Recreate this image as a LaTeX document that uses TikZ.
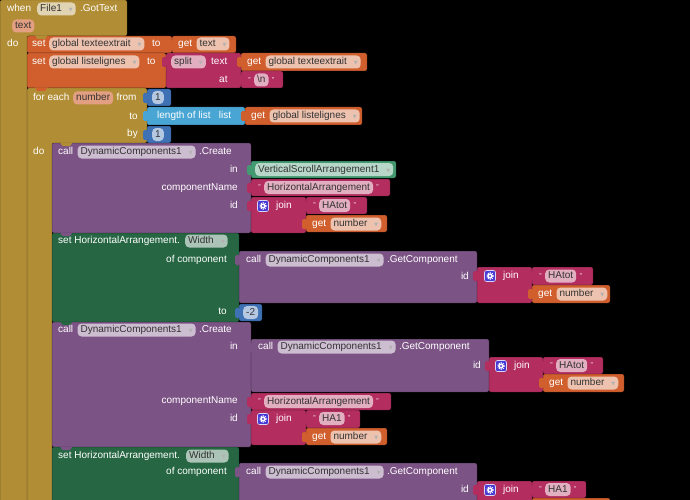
\documentclass[tikz,border=0pt]{standalone}
\usepackage{fontspec}
\setmainfont{Liberation Sans}
\newfontfamily\symfont{DejaVu Sans}
\usepackage{tikz}
\usetikzlibrary{positioning}

\definecolor{evgold}{RGB}{177,142,53}
\definecolor{varorange}{RGB}{208,95,45}
\definecolor{txtpink}{RGB}{179,45,94}
\definecolor{listblue}{RGB}{73,166,212}
\definecolor{mathblue}{RGB}{63,113,181}
\definecolor{comppurple}{RGB}{124,83,133}
\definecolor{setgreen}{RGB}{38,102,67}
\definecolor{compgreen}{RGB}{67,153,112}
\definecolor{gearblue}{RGB}{72,58,212}

% dropdown arrow inside a field
\newcommand{\dd}{\hspace{7pt}{\symfont\fontsize{5}{5}\selectfont\textcolor{black!30}{▼}}\hspace{2pt}}
% value block with its output tab: colour, x1, y1, x2, y2
\newcommand{\vblock}[5]{%
  \fill[#1, blk] (#2,#3) rectangle (#4,#5);
  \fill[#1, rounded corners=1.5pt] (#2+1,#3+4) -- (#2-4,#3+4) -- (#2-4,#3+14) -- (#2+1,#3+14) -- cycle;}
% statement notch: colour, x, y
\newcommand{\notch}[3]{\fill[#1] (#2+8,#3-0.5) -- (#2+10.5,#3+3) -- (#2+18,#3+3) -- (#2+20.5,#3-0.5) -- cycle;}

\tikzstyle{blk} = [rounded corners=2pt, draw=black, draw opacity=0.3, line width=0.5pt]
\tikzstyle{lbl} = [anchor=west, inner sep=0pt, text=white, text height=7.2pt, text depth=2pt, font=\fontsize{10}{12}\selectfont]
\tikzstyle{rlbl} = [lbl, anchor=east]
\tikzstyle{fld} = [lbl, text=black!80, fill=white, fill opacity=0.62, text opacity=1, rounded corners=4pt, inner xsep=3pt, inner ysep=1.9pt]
\tikzstyle{param} = [fld, fill=varorange!60!white, fill opacity=1]
\tikzstyle{qmark} = [inner sep=0pt, text=white, font=\fontsize{7}{7}\selectfont]
\tikzstyle{gearicon} = [minimum size=11pt, inner sep=0pt, fill=gearblue, draw=white!80!gearblue, line width=0.6pt, rounded corners=2pt, path picture={
    \fill[white] (path picture bounding box.center) circle (2.5pt);
    \draw[white, line width=1.3pt, dash pattern=on 1pt off 1pt] (path picture bounding box.center) circle (3.1pt);
    \fill[gearblue] (path picture bounding box.center) circle (1.1pt);}]

\begin{document}
\begin{tikzpicture}[x=1pt, y=-1pt]
    \useasboundingbox (0,0) rectangle (690,500);
    \fill[black] (0,0) rectangle (690,500);
    \clip (0,0) rectangle (690,500);

    % when File1.GotText
    \fill[evgold, blk] (0,0) -- (127,0) -- (127,36) -- (27,36) -- (27,520) -- (0,520) -- cycle;
    \node[lbl] (when) at (7,9) {when};
    \node[fld] (file1) at (37,9) {File1\dd};
    \node[lbl, right=4pt of file1] (gottext) {.GotText};
    \node[param] (evtext) at (12,26) {text};
    \node[lbl] (evdo) at (7,44) {do};

    % set global texteextrait
    \fill[varorange, blk] (27,36) rectangle (172,53);
    \notch{evgold}{27}{36}
    \node[lbl] (set1) at (32,44) {set};
    \node[fld] (var1) at (49,44) {global texteextrait\dd};
    \node[lbl] (to1) at (152,44) {to};
    \vblock{varorange}{172}{36}{236}{53}
    \node[lbl] (get1) at (178,44) {get};
    \node[fld, right=4pt of get1] (gettext) {text\dd};

    % set global listelignes
    \fill[varorange, blk] (27,53) rectangle (166,88);
    \node[lbl] (set2) at (32,62) {set};
    \node[fld] (var2) at (49,62) {global listelignes\dd};
    \node[lbl] (to2) at (147,62) {to};
    \vblock{txtpink}{166}{53}{241}{88}
    \node[fld] (split) at (171,62) {split\dd};
    \node[lbl] (splittext) at (211,62) {text};
    \node[lbl] (splitat) at (219,80) {at};
    \vblock{varorange}{241}{53}{367}{71}
    \node[lbl] (get2) at (247,62) {get};
    \node[fld, right=4pt of get2] (getvar2) {global texteextrait\dd};
    \vblock{txtpink}{241}{71}{283}{88}
    \node[fld] (newline) at (254,80) {\textbackslash n};
    \node[qmark, left=3pt of newline] (nlq1) {"};
    \node[qmark, right=3pt of newline] (nlq2) {"};

    % for each number
    \fill[evgold, blk] (27,88) -- (147,88) -- (147,143) -- (52,143) -- (52,520) -- (27,520) -- cycle;
    \notch{varorange}{27}{88}
    \node[lbl] (foreach) at (33,98) {for each};
    \node[param] (num) at (73,98) {number};
    \node[lbl, right=3pt of num] (from) {from};
    \node[rlbl] (forto) at (138,117) {to};
    \node[rlbl] (forby) at (138,134) {by};
    \node[lbl] (fordo) at (33,152) {do};
    \vblock{mathblue}{147}{89}{171}{106}
    \node[fld] (one1) at (152,97.5) {1};
    \vblock{listblue}{147}{107}{245}{125}
    \node[lbl] (lenof) at (157,116) {length of list};
    \node[lbl, right=8pt of lenof] (lenlist) {list};
    \vblock{varorange}{245}{107}{362}{125}
    \node[lbl] (get3) at (251,116) {get};
    \node[fld, right=4pt of get3] (getvar3) {global listelignes\dd};
    \vblock{mathblue}{147}{126}{171}{143}
    \node[fld] (one2) at (152,134.5) {1};

    % call DynamicComponents1.Create (HAtot)
    \fill[comppurple, blk] (52,143) rectangle (251,233);
    \notch{evgold}{52}{143}
    \node[lbl] (call1) at (58,152) {call};
    \node[fld, right=4pt of call1] (dyn1) {DynamicComponents1\dd};
    \node[lbl, right=3pt of dyn1] (create1) {.Create};
    \node[rlbl] (in1) at (238,170) {in};
    \node[rlbl] (cname1) at (238,188) {componentName};
    \node[rlbl] (id1) at (238,206) {id};
    \vblock{compgreen}{251}{161}{396}{178}
    \node[fld] (vsa) at (255,169.5) {VerticalScrollArrangement1\dd};
    \vblock{txtpink}{251}{179}{390}{196}
    \node[fld] (hz1) at (264,187.5) {HorizontalArrangement};
    \node[qmark, left=3pt of hz1] (hz1q1) {"};
    \node[qmark, right=3pt of hz1] (hz1q2) {"};
    \vblock{txtpink}{251}{197}{306}{233}
    \node[gearicon] (gear1) at (263,206) {};
    \node[lbl] (join1) at (276,206) {join};
    \vblock{txtpink}{306}{197}{367}{214}
    \node[fld] (hatot1) at (319,205.5) {HAtot};
    \node[qmark, left=3pt of hatot1] (ht1q1) {"};
    \node[qmark, right=3pt of hatot1] (ht1q2) {"};
    \vblock{varorange}{306}{215}{387}{232}
    \node[lbl] (get4) at (312,224) {get};
    \node[fld, right=4pt of get4] (num4) {number\dd};

    % set HorizontalArrangement.Width (HAtot)
    \fill[setgreen, blk] (52,233) rectangle (239,322);
    \notch{comppurple}{52}{233}
    \node[lbl] (setw1) at (58,241) {set HorizontalArrangement.};
    \node[fld] (width1) at (185,241) {Width\dd};
    \node[rlbl] (ofc1) at (227,260) {of component};
    \node[rlbl] (wto1) at (227,312) {to};
    \vblock{comppurple}{239}{251}{477}{303}
    \node[lbl] (call2) at (246,260) {call};
    \node[fld, right=4pt of call2] (dyn2) {DynamicComponents1\dd};
    \node[lbl, right=3pt of dyn2] (getc2) {.GetComponent};
    \node[rlbl] (id2) at (469,277) {id};
    \vblock{txtpink}{477}{267}{532}{303}
    \node[gearicon] (gear2) at (490,276) {};
    \node[lbl] (join2) at (503,276) {join};
    \vblock{txtpink}{532}{267}{593}{285}
    \node[fld] (hatot2) at (545,276) {HAtot};
    \node[qmark, left=3pt of hatot2] (ht2q1) {"};
    \node[qmark, right=3pt of hatot2] (ht2q2) {"};
    \vblock{varorange}{532}{285}{610}{303}
    \node[lbl] (get5) at (538,294) {get};
    \node[fld, right=4pt of get5] (num5) {number\dd};
    \vblock{mathblue}{239}{304}{262}{321}
    \node[fld] (minus2) at (243,312.5) {-2};

    % call DynamicComponents1.Create (HA1)
    \fill[comppurple, blk] (52,322) rectangle (251,447);
    \notch{setgreen}{52}{322}
    \node[lbl] (call3) at (58,330) {call};
    \node[fld, right=4pt of call3] (dyn3) {DynamicComponents1\dd};
    \node[lbl, right=3pt of dyn3] (create3) {.Create};
    \node[rlbl] (in3) at (238,347) {in};
    \node[rlbl] (cname3) at (238,401) {componentName};
    \node[rlbl] (id3) at (238,419) {id};
    \vblock{comppurple}{251}{339}{489}{392}
    \node[lbl] (call4) at (258,347) {call};
    \node[fld, right=4pt of call4] (dyn4) {DynamicComponents1\dd};
    \node[lbl, right=3pt of dyn4] (getc4) {.GetComponent};
    \node[rlbl] (id4) at (481,366) {id};
    \vblock{txtpink}{489}{357}{543}{392}
    \node[gearicon] (gear4) at (501,366) {};
    \node[lbl] (join4) at (514,366) {join};
    \vblock{txtpink}{543}{357}{603}{374}
    \node[fld] (hatot4) at (556,365.5) {HAtot};
    \node[qmark, left=3pt of hatot4] (ht4q1) {"};
    \node[qmark, right=3pt of hatot4] (ht4q2) {"};
    \vblock{varorange}{543}{374}{624}{392}
    \node[lbl] (get6) at (549,383) {get};
    \node[fld, right=4pt of get6] (num6) {number\dd};
    \vblock{txtpink}{251}{393}{391}{410}
    \node[fld] (hz3) at (264,401.5) {HorizontalArrangement};
    \node[qmark, left=3pt of hz3] (hz3q1) {"};
    \node[qmark, right=3pt of hz3] (hz3q2) {"};
    \vblock{txtpink}{251}{410}{306}{445}
    \node[gearicon] (gear3) at (263,419) {};
    \node[lbl] (join3) at (276,419) {join};
    \vblock{txtpink}{306}{410}{360}{428}
    \node[fld] (ha1a) at (319,418.5) {HA1};
    \node[qmark, left=3pt of ha1a] (ha1q1) {"};
    \node[qmark, right=3pt of ha1a] (ha1q2) {"};
    \vblock{varorange}{306}{428}{387}{445}
    \node[lbl] (get7) at (312,437) {get};
    \node[fld, right=4pt of get7] (num7) {number\dd};

    % set HorizontalArrangement.Width (HA1)
    \fill[setgreen, blk] (52,447) rectangle (239,520);
    \notch{comppurple}{52}{447}
    \node[lbl] (setw2) at (58,456) {set HorizontalArrangement.};
    \node[fld] (width2) at (186,456) {Width\dd};
    \node[rlbl] (ofc2) at (227,472) {of component};
    \vblock{comppurple}{239}{463}{477}{520}
    \node[lbl] (call5) at (246,472) {call};
    \node[fld, right=4pt of call5] (dyn5) {DynamicComponents1\dd};
    \node[lbl, right=3pt of dyn5] (getc5) {.GetComponent};
    \node[rlbl] (id5) at (469,490) {id};
    \vblock{txtpink}{477}{481}{532}{520}
    \node[gearicon] (gear5) at (490,490) {};
    \node[lbl] (join5) at (503,490) {join};
    \vblock{txtpink}{532}{481}{586}{498}
    \node[fld] (ha1b) at (545,489.5) {HA1};
    \node[qmark, left=3pt of ha1b] (hb1q1) {"};
    \node[qmark, right=3pt of ha1b] (hb1q2) {"};
    \vblock{varorange}{532}{498}{610}{520}
\end{tikzpicture}
\end{document}
